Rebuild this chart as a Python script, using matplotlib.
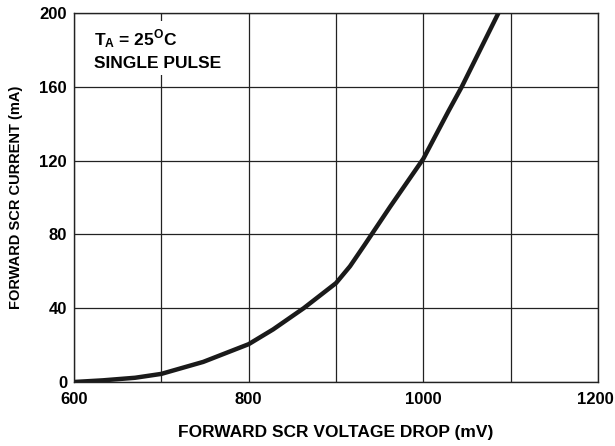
import numpy as np
import matplotlib.pyplot as plt
import matplotlib.transforms as mtransforms
from matplotlib.ticker import MultipleLocator

plt.rcParams['font.family'] = ['Liberation Sans', 'DejaVu Sans']
plt.rcParams['font.weight'] = 'bold'
plt.rcParams['mathtext.fontset'] = 'custom'
plt.rcParams['mathtext.rm'] = 'Liberation Sans:bold'
plt.rcParams['mathtext.bf'] = 'Liberation Sans:bold'

# forward voltage drop (mV) vs forward current (mA)
voltage = [600, 633, 670, 700, 748, 800, 828, 863, 900, 916, 933, 962, 1000, 1029, 1044, 1086]
current = [0, 0.9, 2.3, 4.4, 10.9, 20.5, 28.5, 40, 53.6, 62.7, 74.5, 95, 121, 147, 160, 200]
x_ticks = [600, 800, 1000, 1200]

fig = plt.figure(figsize=(6.15, 4.46), dpi=100)
ax = fig.add_axes([74 / 615, 1 - 382 / 446, 524 / 615, 369 / 446])

ax.plot(voltage, current, color='#1a1a1a', lw=3.2, solid_capstyle='butt',
        solid_joinstyle='round', zorder=3)

ax.set_xlim(600, 1200)
ax.set_ylim(0, 200)
ax.set_xticks(x_ticks)
ax.xaxis.set_minor_locator(MultipleLocator(100))
ax.yaxis.set_major_locator(MultipleLocator(40))
ax.grid(True, which='both', color='#222222', lw=0.9)
ax.tick_params(which='both', length=0, labelsize=12, pad=5)
ax.tick_params(axis='x', pad=7)
for s in ax.spines.values():
    s.set_color('#222222')
    s.set_linewidth(1.0)
    s.set_zorder(5)

# nudge the last x label so it stays inside the figure
fig.canvas.draw()
lab = ax.xaxis.get_major_ticks()[-1].label1
lab.set_transform(lab.get_transform() + mtransforms.ScaledTranslation(-3 / 100, 0, fig.dpi_scale_trans))

ax.set_xlabel('FORWARD SCR VOLTAGE DROP (mV)', fontsize=12.5, fontweight='bold', labelpad=13)
ax.set_ylabel('FORWARD SCR CURRENT (mA)', fontsize=10.5, fontweight='bold', labelpad=12)

ax.text(0.038, 0.96, '$\\mathbf{T_A}$ = 25$^{\\mathbf{O}}$C\nSINGLE PULSE', transform=ax.transAxes,
        fontsize=12.5, fontweight='bold', va='top', ha='left', linespacing=1.4,
        bbox=dict(facecolor='white', edgecolor='none', pad=3), zorder=4)

fig.savefig('out.png', dpi=100)
